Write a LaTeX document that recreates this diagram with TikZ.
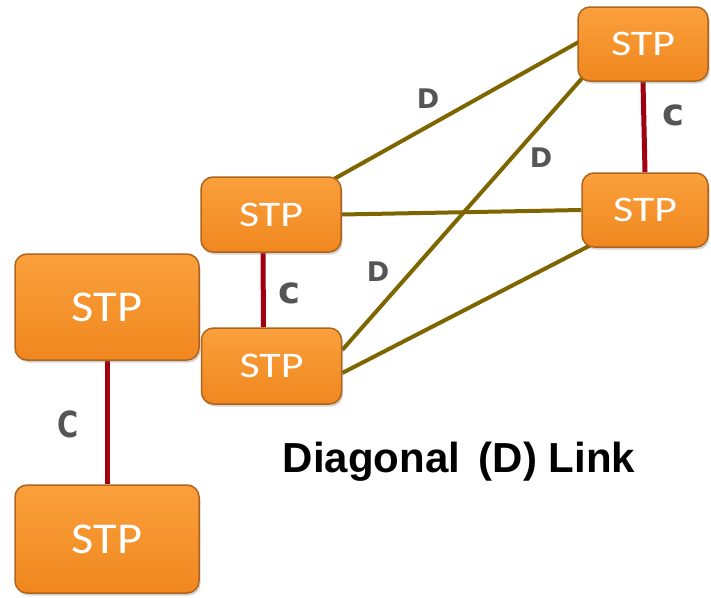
\documentclass[tikz,border=0pt]{standalone}
\usepackage{fontspec}
\usetikzlibrary{shadows,backgrounds}
\newfontfamily\stpfont{Carlito}
\newfontfamily\lblfont{DejaVu Sans}
\newfontfamily\titlefont{Liberation Sans}
\definecolor{boxtop}{RGB}{250,160,60}
\definecolor{boxbot}{RGB}{240,135,30}
\definecolor{boxedge}{RGB}{175,100,30}
\definecolor{dlink}{RGB}{125,102,0}
\definecolor{clink}{RGB}{160,0,16}
\definecolor{lblgray}{RGB}{85,85,85}
\tikzset{
  stpbox/.style={rectangle, rounded corners=12pt, draw=boxedge, line width=1.5pt,
    top color=boxtop, bottom color=boxbot, inner sep=0pt,
    drop shadow={shadow xshift=1.5pt, shadow yshift=-2.5pt, opacity=0.35},
    text=white, font=\stpfont},
  bigstp/.style={stpbox, minimum width=184pt, minimum height=106pt},
  smallstp/.style={stpbox, minimum width=140pt, minimum height=75pt},
  dline/.style={draw=dlink, line width=4pt},
  cline/.style={draw=clink, line width=5pt},
  lbl/.style={text=lblgray, inner sep=0pt},
  dlbl/.style={lbl, font=\lblfont\bfseries\fontsize{27}{27}\selectfont},
  clbl/.style={lbl, font=\lblfont\bfseries\fontsize{37}{37}\selectfont},
}
\newcommand{\bigtxt}{\fontsize{44}{44}\selectfont\scalebox{1.1}[1]{STP}}
\newcommand{\smalltxt}{\fontsize{36}{36}\selectfont\scalebox{1.22}[1]{STP}}
\begin{document}
\begin{tikzpicture}[x=1pt,y=-1pt]
\useasboundingbox (0,0) rectangle (711,597);
\node[bigstp] (L1) at (107,307) {\bigtxt};
\node[bigstp, minimum height=108pt] (L2) at (107,539) {\bigtxt};
\node[smallstp] (M1) at (271,214.5) {\smalltxt};
\node[smallstp, minimum height=76pt] (M2) at (271.5,366) {\smalltxt};
\node[smallstp, minimum width=130pt, minimum height=74pt] (R1) at (643,44) {\smalltxt};
\node[smallstp, minimum width=126pt, minimum height=74pt] (R2) at (645,210) {\smalltxt};
\begin{scope}[on background layer]
\draw[cline] (L1.south) -- (L2.north);
\draw[cline] ([xshift=-8pt]M1.south) -- ([xshift=-8pt]M2.north);
\draw[cline] (R1.south) -- (R2.north);
\draw[dline] ([xshift=-10pt,yshift=-4pt]M1.north east) -- ([shift={(5pt,4pt)}]R1.west);
\draw[dline] (M1.east) -- (R2.west);
\draw[dline] ([yshift=16pt]M2.east) -- ([shift={(7pt,6pt)}]R1.south west);
\draw[dline] ([yshift=-7pt]M2.east) -- ([shift={(18pt,7pt)}]R2.south west);
\end{scope}
\node[dlbl] (d1) at (428,99) {D};
\node[dlbl] (d2) at (541,158) {D};
\node[dlbl] (d3) at (378,272) {D};
\node[clbl] (c1) at (673,115) {c};
\node[clbl] (c2) at (289,293) {c};
\node[lbl, font=\lblfont\bfseries\fontsize{36}{36}\selectfont] (c3) at (68,424) {\scalebox{0.8}[1]{C}};
\node[font=\titlefont\bfseries\fontsize{42}{42}\selectfont, text=black, inner sep=0pt, anchor=base] (title) at (459,472) {Diagonal\, (D) Link};
\end{tikzpicture}
\end{document}
